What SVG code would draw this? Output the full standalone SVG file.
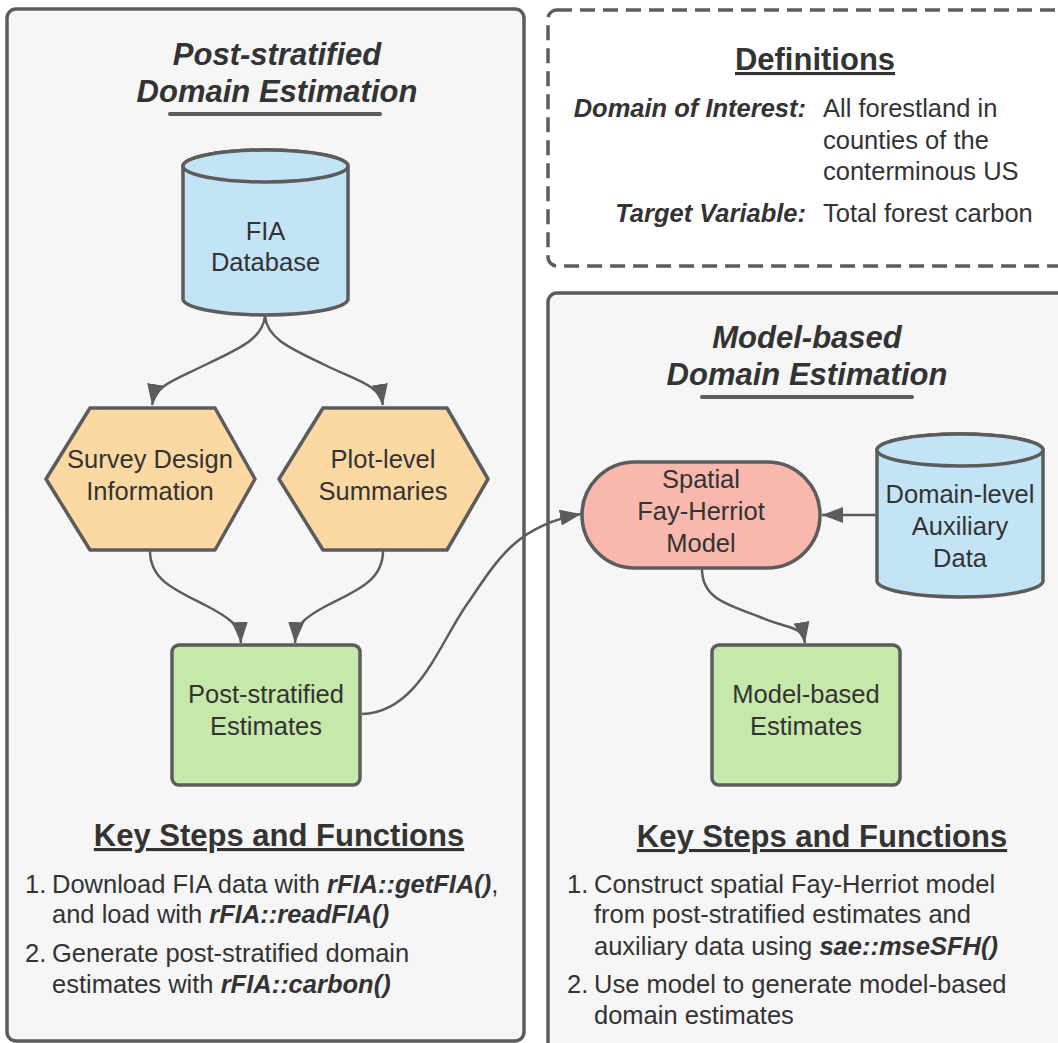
<svg xmlns="http://www.w3.org/2000/svg" width="1058" height="1043" viewBox="0 0 1058 1043">
<style>
text{font-family:"Liberation Sans",Arial,sans-serif;fill:#333;font-size:25.5px}
.t{font-weight:bold;font-style:italic;font-size:31px;text-anchor:middle}
.h{font-weight:bold;font-size:31px;text-anchor:middle;text-decoration:underline}
.c{text-anchor:middle}
.bi{font-weight:bold;font-style:italic}
.panel{fill:#f6f6f6;stroke:#5c5c5c;stroke-width:3.5}
.sh{stroke:#5c5c5c;stroke-width:3.5;stroke-linejoin:round}
.ul{stroke:#5c5c5c;stroke-width:4;stroke-linecap:round}
.con{fill:none;stroke:#5c5c5c;stroke-width:2.5}
</style>
<defs>
<marker id="ah" markerUnits="userSpaceOnUse" markerWidth="22" markerHeight="16" refX="21" refY="8" orient="auto" viewBox="0 0 22 16">
<path d="M0,0 L21,8 L0,16 Z" fill="#5c5c5c"/>
</marker>
</defs>
<rect width="1058" height="1043" fill="#ffffff"/>
<g id="panel-left">
<rect class="panel" x="7" y="9" width="517" height="1032" rx="9"/>
<text class="t" x="277" y="65">Post-stratified</text>
<text class="t" x="277" y="102">Domain Estimation</text>
<line class="ul" x1="170" y1="114" x2="380" y2="114"/>
</g>
<g id="definitions">
<rect x="548" y="10" width="540" height="256" rx="9" fill="#ffffff" stroke="#5c5c5c" stroke-width="3.5" stroke-dasharray="15 8"/>
<text class="h" x="815" y="70">Definitions</text>
<text class="bi" x="806" y="117" text-anchor="end">Domain of Interest:</text>
<text x="823" y="117">All forestland in</text>
<text x="823" y="149">counties of the</text>
<text x="823" y="180">conterminous US</text>
<text class="bi" x="806" y="222" text-anchor="end">Target Variable:</text>
<text x="823" y="222">Total forest carbon</text>
</g>
<g id="panel-right">
<rect class="panel" x="548" y="293" width="540" height="760" rx="9"/>
<text class="t" x="807" y="348">Model-based</text>
<text class="t" x="807" y="385">Domain Estimation</text>
<line class="ul" x1="702" y1="397" x2="912" y2="397"/>
</g>
<g id="connectors">
<path class="con" d="M265,316 C263,340 235,350 205,365 C175,380 155,385 152,405" marker-end="url(#ah)"/>
<path class="con" d="M265,316 C267,340 295,350 325,365 C355,380 380,385 383,405" marker-end="url(#ah)"/>
<path class="con" d="M150,551 C150,580 175,590 205,605 C230,618 240,625 241,643" marker-end="url(#ah)"/>
<path class="con" d="M383,551 C383,580 358,590 328,605 C303,618 296,625 295,643" marker-end="url(#ah)"/>
<path class="con" d="M362,714 C420,712 440,640 470,600 C500,555 520,525 581,514" marker-end="url(#ah)"/>
<path class="con" d="M877,515 L822,515" marker-end="url(#ah)"/>
<path class="con" d="M702,569 C702,600 730,605 760,617 C790,630 802,625 805,643" marker-end="url(#ah)"/>
</g>
<g id="fia-database">
<path class="sh" fill="#c3e4f6" d="M183,166 V299 A82.5,16 0 0 0 348,299 V166 A82.5,16 0 0 0 183,166 Z"/>
<ellipse class="sh" fill="#c3e4f6" cx="265.5" cy="166" rx="82.5" ry="16"/>
<text class="c" x="265.5" y="240">FIA</text>
<text class="c" x="265.5" y="271">Database</text>
</g>
<g id="survey-design">
<polygon class="sh" fill="#fcd8a3" points="90,408 215,408 255,479 215,550 90,550 46,479"/>
<text class="c" x="150" y="468">Survey Design</text>
<text class="c" x="150" y="500">Information</text>
</g>
<g id="plot-level">
<polygon class="sh" fill="#fcd8a3" points="323,408 447,408 488,479 447,550 323,550 279,479"/>
<text class="c" x="383" y="468">Plot-level</text>
<text class="c" x="383" y="500">Summaries</text>
</g>
<g id="post-stratified-estimates">
<rect class="sh" fill="#c6e8aa" x="172" y="645" width="188" height="140" rx="7"/>
<text class="c" x="266" y="703">Post-stratified</text>
<text class="c" x="266" y="735">Estimates</text>
</g>
<g id="fay-herriot">
<rect class="sh" fill="#f9b8ad" x="582" y="462" width="238" height="106" rx="53"/>
<text class="c" x="701" y="488">Spatial</text>
<text class="c" x="701" y="520">Fay-Herriot</text>
<text class="c" x="701" y="552">Model</text>
</g>
<g id="auxiliary-data">
<path class="sh" fill="#c3e4f6" d="M877,450 V581 A83,16 0 0 0 1043,581 V450 A83,16 0 0 0 877,450 Z"/>
<ellipse class="sh" fill="#c3e4f6" cx="960" cy="450" rx="83" ry="16"/>
<text class="c" x="960" y="503">Domain-level</text>
<text class="c" x="960" y="535">Auxiliary</text>
<text class="c" x="960" y="567">Data</text>
</g>
<g id="model-based-estimates">
<rect class="sh" fill="#c6e8aa" x="712" y="645" width="188" height="140" rx="7"/>
<text class="c" x="806" y="703">Model-based</text>
<text class="c" x="806" y="735">Estimates</text>
</g>
<g id="steps-left">
<text class="h" x="279" y="846">Key Steps and Functions</text>
<text x="25" y="893">1.</text>
<text x="52" y="893">Download FIA data with <tspan class="bi">rFIA::getFIA()</tspan>,</text>
<text x="52" y="923">and load with <tspan class="bi">rFIA::readFIA()</tspan></text>
<text x="25" y="962">2.</text>
<text x="52" y="962">Generate post-stratified domain</text>
<text x="52" y="993">estimates with <tspan class="bi">rFIA::carbon()</tspan></text>
</g>
<g id="steps-right">
<text class="h" x="822" y="847">Key Steps and Functions</text>
<text x="567" y="893">1.</text>
<text x="594" y="893">Construct spatial Fay-Herriot model</text>
<text x="594" y="923">from post-stratified estimates and</text>
<text x="594" y="955">auxiliary data using <tspan class="bi">sae::mseSFH()</tspan></text>
<text x="567" y="993">2.</text>
<text x="594" y="993">Use model to generate model-based</text>
<text x="594" y="1024">domain estimates</text>
</g>
</svg>
